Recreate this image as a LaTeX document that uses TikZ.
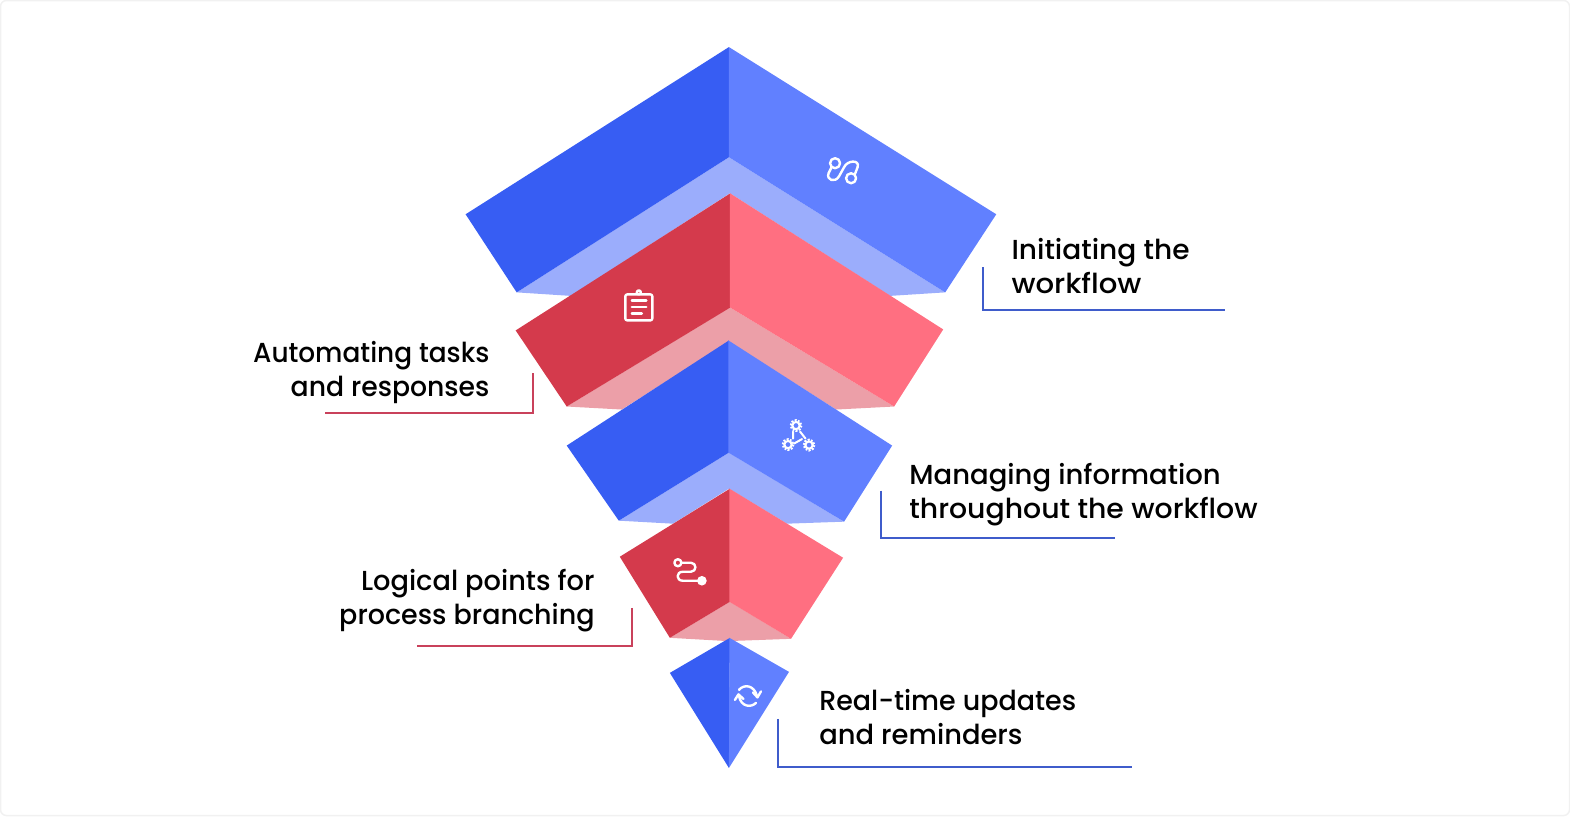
\documentclass[tikz,border=0pt]{standalone}
\usepackage{graphicx}
\usepackage{fontspec}
\setmainfont[UprightFont=* Medium]{Poppins}
\newcommand{\fitw}[2]{\scalebox{#1}[1]{#2}}
\definecolor{bluedark}{HTML}{375DF3}
\definecolor{bluemid}{HTML}{6180FF}
\definecolor{bluelight}{HTML}{9BADFC}
\definecolor{reddark}{HTML}{D43A4C}
\definecolor{redmid}{HTML}{FF6F81}
\definecolor{redlight}{HTML}{EC9FA8}
\definecolor{leadblue}{HTML}{3F5CCB}
\definecolor{leadred}{HTML}{C9415B}
\definecolor{edge}{HTML}{F1F1F1}
\tikzset{
  labeltext/.style={font=\fontsize{27.5}{34}\selectfont,inner sep=0pt,text=black},
  leadb/.style={draw=leadblue,line width=2pt},
  leadr/.style={draw=leadred,line width=2pt},
  icon/.style={draw=white,line width=2.4pt,line cap=round,line join=round},
  gear/.style={draw=white,line width=2.8pt,dash pattern=on 1.8pt off 1.3pt},
  gearin/.style={draw=white,line width=2pt}
}
\begin{document}
\begin{tikzpicture}[x=1.00128pt,y=-1.00128pt]
\useasboundingbox (0,0) rectangle (1568,815);
\draw[edge,line width=1.5pt,rounded corners=6pt] (0.5,0.5) rectangle (1567.5,814.5);
% tier 1
\fill[bluelight] (728,157) -- (944,292) -- (889,295.5) -- (729,193) -- (570,295.5) -- (516,292) -- cycle;
\fill[bluedark] (728,47) -- (465,214) -- (516,292) -- (728,157) -- cycle;
\fill[bluemid] (728,47) -- (995,214) -- (944,292) -- (728,157) -- cycle;
% tier 2
\fill[redlight] (729,307) -- (893,406) -- (835,409) -- (728,341) -- (621,409) -- (566,406) -- cycle;
\fill[reddark] (729.5,193) -- (515,330) -- (566,406) -- (729.5,307) -- cycle;
\fill[redmid] (729,193) -- (942,329) -- (893,406) -- (729,307) -- cycle;
% tier 3
\fill[bluelight] (728,452) -- (843,521) -- (786,523) -- (728,488) -- (672,523) -- (618,520) -- cycle;
\fill[bluedark] (728,340) -- (566,445) -- (618,520) -- (728,452) -- cycle;
\fill[bluemid] (727.5,340) -- (891,445) -- (843,521) -- (727.5,452) -- cycle;
% tier 4
\fill[redlight] (729,601) -- (790,638) -- (735,640) -- (722,640) -- (669,637) -- cycle;
\fill[reddark] (729,488) -- (619,556) -- (669,637) -- (729,601) -- cycle;
\fill[redmid] (728.5,488) -- (842,557) -- (790,638) -- (728.5,601) -- cycle;
% tier 5
\fill[bluedark] (729,637) -- (669,672) -- (728,767) -- cycle;
\fill[bluemid] (728.5,637) -- (788,671) -- (728,767) -- cycle;
% icon 1
\draw[icon] (834,163) circle (5);
\draw[icon] (850,178) circle (5);
\draw[icon] (830.5,167) -- (827.5,173) .. controls (825,180) and (834,183) .. (838,176) -- (843,167) .. controls (846,160) and (859,159) .. (856.5,167) -- (854,173.5);
% icon 2
\draw[icon,rounded corners=2pt] (624.5,294) rectangle (651.5,320);
\draw[icon] (638,292) circle (2);
\draw[icon] (631,300) -- (645.5,300) (631,306.5) -- (645.5,306.5) (631,313) -- (641,313);
% icon 3
\draw[gear] (795,425) circle (5);
\draw[gear] (787,444) circle (5);
\draw[gear] (808,444.5) circle (5);
\draw[gearin] (795,425) circle (3.6) (787,444) circle (3.6) (808,444.5) circle (3.6);
\draw[icon,line width=2pt] (792,431) -- (792,438) (799,431) -- (804.5,438) (793,443) -- (801,438.5);
% icon 4
\draw[icon] (677,562) circle (3.5);
\fill[white] (701,580) circle (4.8);
\draw[icon] (681,562) -- (690,562) .. controls (696,562) and (696,571) .. (690,571) -- (682,571) .. controls (675,571) and (675,580) .. (682,580) -- (697,580);
% icon 5
\draw[icon] (738,689) .. controls (743,683) and (753,684) .. (756,695);
\draw[icon] (752,691.5) -- (756.5,696.5) -- (760,690.5);
\draw[icon] (755,702) .. controls (750,707) and (740,706) .. (738,695);
\draw[icon] (734,699) -- (737.5,693.5) -- (742.5,698);
% labels
\node[labeltext,anchor=base west,align=left] (t1) at (1010,293.5) {\fitw{1.02}{Initiating the}\\\fitw{1.06}{workflow}};
\node[labeltext,anchor=base east,align=right] (t2) at (489,396) {\fitw{0.958}{Automating tasks}\\\fitw{0.97}{and responses}};
\node[labeltext,anchor=base west,align=left] (t3) at (908,517.5) {\fitw{1.0}{Managing information}\\\fitw{1.03}{throughout the workflow}};
\node[labeltext,anchor=base east,align=right] (t4) at (594,624) {\fitw{0.99}{Logical points for}\\\fitw{0.98}{process branching}};
\node[labeltext,anchor=base west,align=left] (t5) at (818,744) {\fitw{0.98}{Real-time updates}\\\fitw{0.995}{and reminders}};
% leaders
\coordinate (a1) at (981.5,267); \coordinate (b1) at (981.5,310); \coordinate (c1) at (1223,310);
\coordinate (a2) at (532,373); \coordinate (b2) at (532,412.5); \coordinate (c2) at (325,412.5);
\coordinate (a3) at (879.5,490); \coordinate (b3) at (879.5,537.5); \coordinate (c3) at (1114,537.5);
\coordinate (a4) at (631.5,607); \coordinate (b4) at (631.5,645); \coordinate (c4) at (416,645);
\coordinate (a5) at (777,718); \coordinate (b5) at (777,766.5); \coordinate (c5) at (1131,766.5);
\draw[leadb] (a1) -- (b1) -- (c1);
\draw[leadr] (a2) -- (b2) -- (c2);
\draw[leadb] (a3) -- (b3) -- (c3);
\draw[leadr] (a4) -- (b4) -- (c4);
\draw[leadb] (a5) -- (b5) -- (c5);
\end{tikzpicture}
\end{document}
